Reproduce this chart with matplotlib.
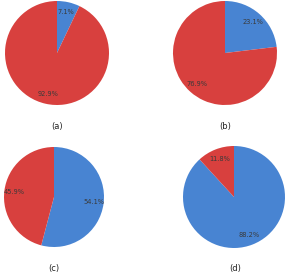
import matplotlib
matplotlib.use("Agg")
import matplotlib.pyplot as plt

# share of each pie: first value is blue, second is red
panels = ["(a)", "(b)", "(c)", "(d)"]
blue_vals = [7.1, 23.1, 54.1, 88.2]
red_vals = [92.9, 76.9, 45.9, 11.8]

BLUE = "#4884d2"
RED = "#d8403e"

W, H = 285, 276
fig = plt.figure(figsize=(W / 100, H / 100), dpi=100)

# pie centres / radii and caption positions, in pixels
centres = [(57, 53, 52), (225, 53, 52), (54, 197, 50), (234, 197, 51)]
captions = [(57, 127), (225, 127), (54, 269), (235, 269)]

for name, b, r, (cx, cy, rad), (tx, ty) in zip(panels, blue_vals, red_vals, centres, captions):
    ax = fig.add_axes([(cx - rad) / W, 1 - (cy + rad) / H, 2 * rad / W, 2 * rad / H])
    ax.pie([b, r], colors=[BLUE, RED], startangle=90, counterclock=False,
           autopct="%.1f%%", pctdistance=0.8,
           textprops={"fontsize": 4.8, "color": "#3a3a3a"},
           wedgeprops={"linewidth": 0})
    ax.set_xlim(-1, 1)
    ax.set_ylim(-1, 1)
    ax.set_aspect("equal")
    ax.axis("off")
    fig.text(tx / W, 1 - ty / H, name, ha="center", va="center", fontsize=6, color="#222222")

fig.savefig("out.png", dpi=100)
